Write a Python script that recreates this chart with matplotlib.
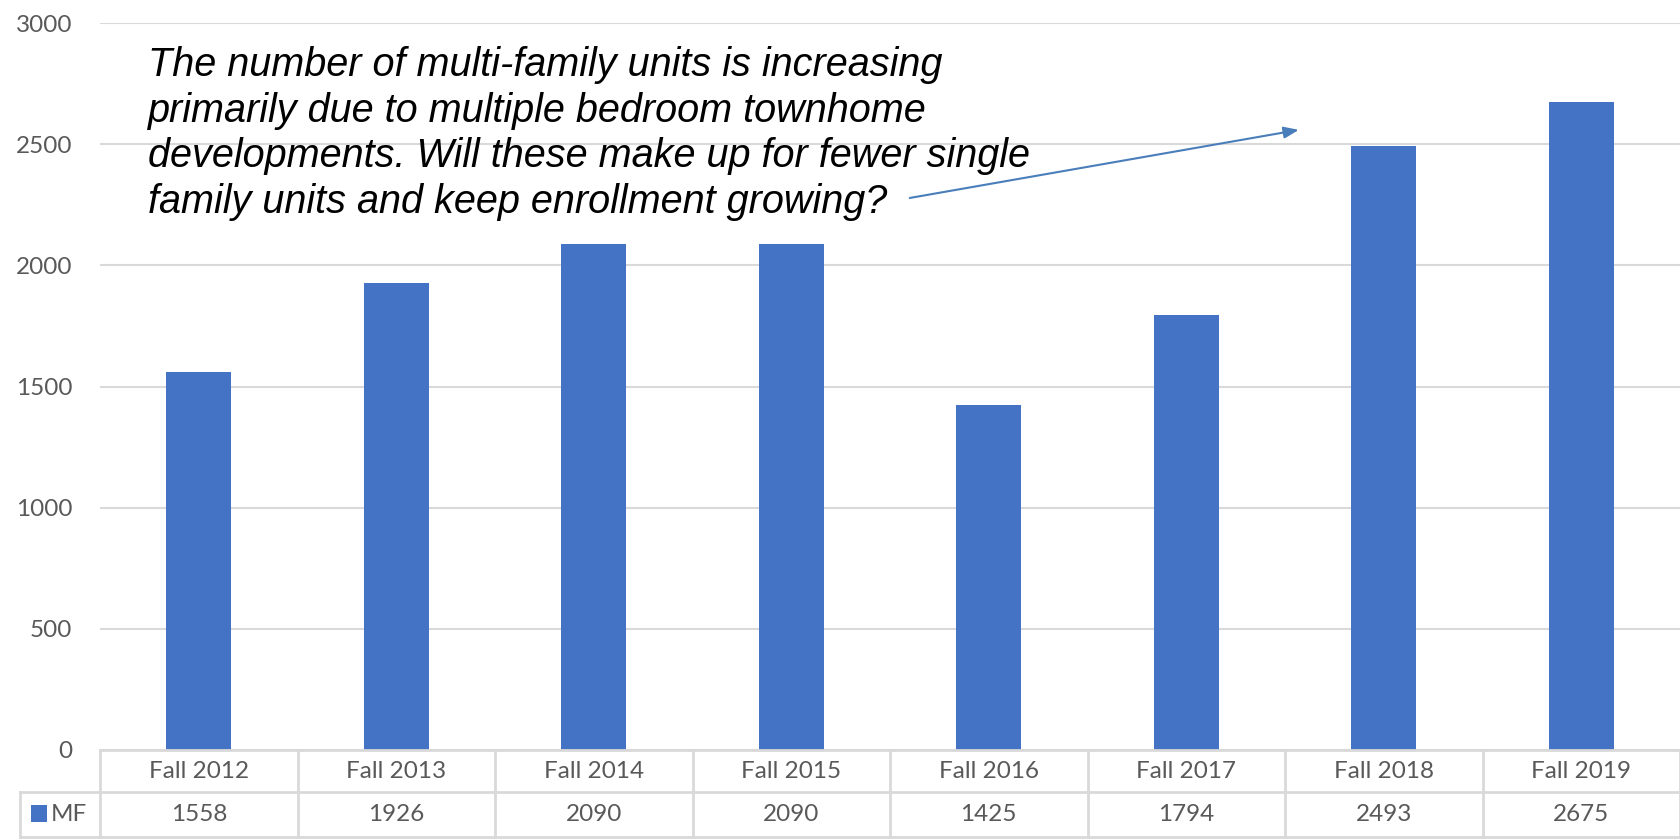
import matplotlib
matplotlib.use("Agg")
import matplotlib.pyplot as plt
from matplotlib.transforms import blended_transform_factory
from matplotlib.lines import Line2D
from matplotlib.patches import Rectangle

categories = ["Fall 2012", "Fall 2013", "Fall 2014", "Fall 2015",
              "Fall 2016", "Fall 2017", "Fall 2018", "Fall 2019"]
mf_values = [1558, 1926, 2090, 2090, 1425, 1794, 2493, 2675]
series_name = "MF"
y_ticks = [0, 500, 1000, 1500, 2000, 2500, 3000]
note = ("The number of multi-family units is increasing\n"
        "primarily due to multiple bedroom townhome\n"
        "developments. Will these make up for fewer single\n"
        "family units and keep enrollment growing?")

W, H = 1680, 840
BAR = "#4472C4"
GRID = "#D9D9D9"
TXT = "#595959"
FONT = ["Lato", "DejaVu Sans"]
FS = 17.5

fig = plt.figure(figsize=(W / 100, H / 100), dpi=100)
ax = fig.add_axes([100 / W, (H - 750) / H, 1 - 100 / W, (750 - 23) / H])

x = list(range(len(categories)))
ax.bar(x, mf_values, width=0.33, color=BAR, zorder=3)
ax.set_xlim(-0.5, len(categories) - 0.5)
ax.set_ylim(0, 3000)
ax.set_yticks(y_ticks)
ax.set_yticklabels([str(v) for v in y_ticks], fontsize=FS, color=TXT, family=FONT)
ax.tick_params(axis="y", length=0, pad=20)
ax.set_xticks([])
ax.grid(axis="y", color=GRID, linewidth=1.5, zorder=0)
for s in ax.spines.values():
    s.set_visible(False)

# data table below the plot
bt = blended_transform_factory(ax.transData, fig.transFigure)
ft = fig.transFigure
def fy(py):
    return 1 - py / H
y_top, y_mid, y_bot = fy(750), fy(792), fy(837)
lw = 2.0
n = len(categories)
fig.add_artist(Line2D([-0.5, n - 0.5], [y_top, y_top], transform=bt, color=GRID, lw=lw))
fig.add_artist(Line2D([20 / W, 1], [y_mid, y_mid], transform=ft, color=GRID, lw=lw))
fig.add_artist(Line2D([20 / W, 1], [y_bot, y_bot], transform=ft, color=GRID, lw=lw))
for k in range(n + 1):
    xv = k - 0.5
    fig.add_artist(Line2D([xv, xv], [y_top, y_bot], transform=bt, color=GRID, lw=lw))
fig.add_artist(Line2D([20 / W, 20 / W], [y_mid, y_bot], transform=ft, color=GRID, lw=lw))
for i, (c, v) in enumerate(zip(categories, mf_values)):
    fig.text(i, (y_top + y_mid) / 2, c, transform=bt, ha="center", va="center",
             fontsize=FS, color=TXT, family=FONT)
    fig.text(i, (y_mid + y_bot) / 2, str(v), transform=bt, ha="center", va="center",
             fontsize=FS, color=TXT, family=FONT)
fig.add_artist(Rectangle((31 / W, fy(822)), 16 / W, 17 / H, transform=ft,
                         color=BAR, lw=0))
fig.text(51 / W, (y_mid + y_bot) / 2, series_name, ha="left", va="center",
         fontsize=FS, color=TXT, family=FONT)

# annotation
ax.text(-0.255, 2905, note, ha="left", va="top", fontsize=28.5,
        style="italic", family=["Liberation Sans", "DejaVu Sans"],
        color="black", linespacing=1.25, zorder=5)
ax.annotate("", xy=(5.57, 2559), xytext=(3.60, 2278),
            arrowprops=dict(arrowstyle="-|>,head_length=0.9,head_width=0.35",
                            color="#4A7EBB", lw=1.5, shrinkA=0, shrinkB=0),
            zorder=5)

fig.savefig("out.png", dpi=100, facecolor="white")
